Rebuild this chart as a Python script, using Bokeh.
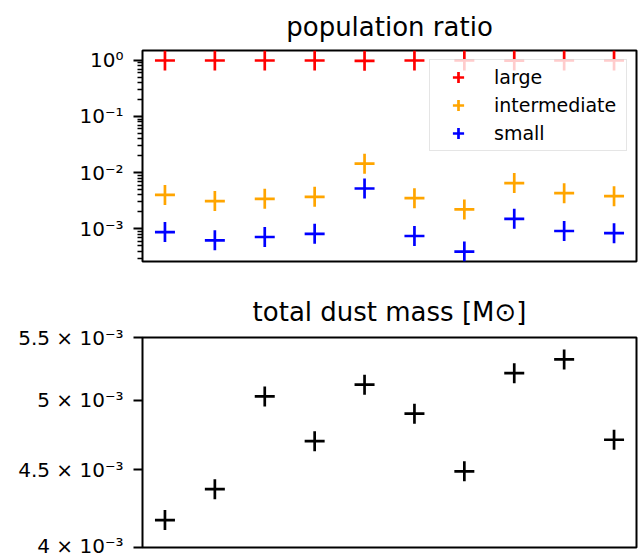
from bokeh.plotting import figure
from bokeh.layouts import column
from bokeh.models import Range1d, FixedTicker, CustomJSTickFormatter, Legend, LegendItem
from bokeh.embed import file_html
from bokeh.resources import INLINE

# ---- data ----
runs = [0, 1, 2, 3, 4, 5, 6, 7, 8, 9]
large = [0.995, 0.996, 0.996, 0.995, 0.98, 0.996, 0.997, 0.992, 0.995, 0.995]
intermediate = [4.0e-3, 3.1e-3, 3.4e-3, 3.7e-3, 1.44e-2, 3.5e-3, 2.2e-3, 6.5e-3, 4.3e-3, 3.8e-3]
small = [8.7e-4, 6.2e-4, 7.1e-4, 8.1e-4, 5.2e-3, 7.4e-4, 3.9e-4, 1.5e-3, 9.1e-4, 8.3e-4]
dust_mass = [4.17e-3, 4.37e-3, 5.03e-3, 4.70e-3, 5.12e-3, 4.90e-3, 4.49e-3, 5.21e-3, 5.32e-3, 4.71e-3]

top_ticks = [1.0, 0.1, 0.01, 0.001]
top_tick_labels = ["10\u2070", "10\u207b\u00b9", "10\u207b\u00b2", "10\u207b\u00b3"]
bottom_ticks = [4.0e-3, 4.5e-3, 5.0e-3, 5.5e-3]
bottom_tick_labels = ["4 \u00d7 10\u207b\u00b3", "4.5 \u00d7 10\u207b\u00b3",
                      "5 \u00d7 10\u207b\u00b3", "5.5 \u00d7 10\u207b\u00b3"]
top_minor = [m * d for d in [1e-4, 1e-3, 1e-2, 1e-1, 1.0] for m in range(2, 10)]

FONT = "DejaVu Sans"
FMT_CODE = """
for (let i = 0; i < vals.length; i++) {
  if (Math.abs(tick - vals[i]) <= 1e-9 * Math.abs(vals[i])) { return labels[i]; }
}
return '';
"""


def style(p, ticks, labels, minor, title_standoff):
    p.grid.visible = False
    p.outline_line_color = "black"
    p.outline_line_width = 2
    p.background_fill_color = "white"
    p.border_fill_color = "white"
    ax = p.yaxis[0]
    ax.ticker = FixedTicker(ticks=ticks, minor_ticks=minor)
    ax.formatter = CustomJSTickFormatter(args=dict(vals=ticks, labels=labels), code=FMT_CODE)
    ax.axis_line_color = None
    ax.major_tick_in = 0
    ax.major_tick_out = 9
    ax.major_tick_line_width = 2
    ax.major_tick_line_color = "black"
    ax.minor_tick_in = 0
    ax.minor_tick_out = 5
    ax.minor_tick_line_width = 1.5
    ax.minor_tick_line_color = "black"
    ax.major_label_text_font = FONT
    ax.major_label_text_font_size = "20px"
    ax.major_label_text_color = "black"
    ax.major_label_standoff = 10
    p.title.text_font = FONT
    p.title.text_font_size = "26px"
    p.title.text_font_style = "normal"
    p.title.text_color = "black"
    p.title.align = "center"
    p.title.standoff = title_standoff


# ---- top panel ----
p1 = figure(width=638, height=280, y_axis_type="log",
            x_range=Range1d(-0.45, 9.45), y_range=Range1d(2.6e-4, 1.5),
            x_axis_location=None, title="population ratio",
            min_border_left=142, min_border_right=2, min_border_top=49, min_border_bottom=19,
            output_backend="svg", toolbar_location=None)
style(p1, top_ticks, top_tick_labels, top_minor, 18)

r_large = p1.scatter(runs, large, marker="cross", size=20, line_color="#ff0000", line_width=2.7)
r_int = p1.scatter(runs, intermediate, marker="cross", size=20, line_color="#ffa500", line_width=2.7)
r_small = p1.scatter(runs, small, marker="cross", size=20, line_color="#0000ff", line_width=2.7)

legend = Legend(items=[LegendItem(label="large", renderers=[r_large]),
                       LegendItem(label="intermediate", renderers=[r_int]),
                       LegendItem(label="small", renderers=[r_small])],
                location="top_right", margin=9, padding=3, spacing=0,
                glyph_width=50, glyph_height=28, label_height=28, label_width=129,
                label_standoff=11,
                label_text_font=FONT, label_text_font_size="19px", label_text_color="black",
                label_text_baseline="middle",
                border_line_color="#cccccc", border_line_width=1.5,
                background_fill_color="white", background_fill_alpha=0.8)
p1.add_layout(legend)

# ---- bottom panel ----
p2 = figure(width=638, height=277, y_axis_type="log",
            x_range=Range1d(-0.45, 9.45), y_range=Range1d(4.0e-3, 5.5e-3),
            x_axis_location=None, title="total dust mass [M\u2299]",
            min_border_left=142, min_border_right=2, min_border_top=57, min_border_bottom=10,
            output_backend="svg", toolbar_location=None)
style(p2, bottom_ticks, bottom_tick_labels, [], 22)
p2.scatter(runs, dust_mass, marker="cross", size=20, line_color="black", line_width=2.7)

layout = column(p1, p2, spacing=0)
open("out.html", "w").write(file_html(layout, INLINE))
